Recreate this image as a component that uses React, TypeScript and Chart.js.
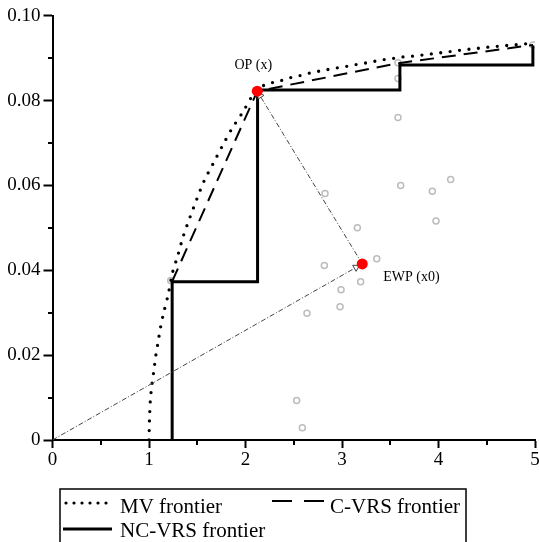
import React, { useEffect, useRef } from 'react';
import { Chart, registerables } from 'chart.js';

Chart.register(...registerables);

// Mean-variance frontier (dotted)
const mvX = [1.0, 1.005, 1.014, 1.03, 1.05, 1.07, 1.095, 1.12, 1.152, 1.2, 1.242, 1.3, 1.356, 1.425, 1.494, 1.57, 1.666, 1.76, 1.86, 1.967, 2.064, 2.122, 2.236, 2.34, 2.45, 2.55, 2.65, 2.755, 2.85, 2.95, 3.055, 3.15, 3.256, 3.35, 3.45, 3.55, 3.64, 3.746, 3.86, 3.96, 4.07, 4.17, 4.27, 4.37, 4.47, 4.57, 4.67, 4.77, 4.87, 4.98];
const mvY = [0.0, 0.0047, 0.0094, 0.013, 0.0163, 0.0198, 0.0232, 0.0266, 0.03, 0.0344, 0.0393, 0.0436, 0.0481, 0.0525, 0.0567, 0.061, 0.0652, 0.0693, 0.0734, 0.0771, 0.0809, 0.0827, 0.084, 0.0845, 0.0853, 0.0858, 0.0864, 0.0869, 0.0873, 0.0877, 0.0881, 0.0885, 0.0889, 0.0893, 0.0897, 0.09, 0.0903, 0.0905, 0.0908, 0.0911, 0.0914, 0.0917, 0.092, 0.0922, 0.0925, 0.0927, 0.0929, 0.0931, 0.0933, 0.0935];

// Convex VRS frontier (dashed)
const cvrsX = [1.24, 2.122, 3.58, 4.98];
const cvrsY = [0.0374, 0.0822, 0.0888, 0.0931];

// Non-convex VRS frontier (solid staircase)
const ncX = [1.24, 1.24, 2.125, 2.125, 3.6, 3.6, 4.978, 4.978];
const ncY = [0.0, 0.0373, 0.0373, 0.0825, 0.0825, 0.0884, 0.0884, 0.093];

// Individual funds (grey circles)
const fundX = [1.225, 3.58, 3.58, 3.58, 2.824, 3.608, 3.936, 4.126, 3.974, 3.159, 3.36, 2.817, 3.193, 2.99, 2.98, 2.637, 2.53, 2.589, 4.98];
const fundY = [0.0376, 0.0889, 0.0852, 0.076, 0.0581, 0.06, 0.0586, 0.0614, 0.0516, 0.05, 0.0427, 0.0411, 0.0373, 0.0354, 0.0314, 0.0299, 0.0093, 0.0029, 0.0931];

// Special portfolios
const originXY = [0, 0];
const opXY = [2.122, 0.0822];
const ewpXY = [3.21, 0.0415];
const arrowNearEwp = [3.146, 0.0407];
const arrowNearOp = [2.15, 0.0812];

const opLabel = 'OP (x)';
const ewpLabel = 'EWP (x0)';

const yTickLabels = ['0', '0.02', '0.04', '0.06', '0.08', '0.10'];
const xTickLabels = ['0', '1', '2', '3', '4', '5'];
const legendLabels = ['MV frontier', 'C-VRS frontier', 'NC-VRS frontier'];

const FONT = "'Liberation Serif', 'Times New Roman', serif";

const zip = (xs: number[], ys: number[]) => xs.map((x, i) => ({ x, y: ys[i] }));

function arrowRotation(from: number[], to: number[]) {
  return (ctx: any) => {
    const c = ctx.chart;
    const xs = c.scales && c.scales.x;
    const ys = c.scales && c.scales.y;
    if (!xs || !ys) return 0;
    const dx = xs.getPixelForValue(to[0]) - xs.getPixelForValue(from[0]);
    const dy = ys.getPixelForValue(to[1]) - ys.getPixelForValue(from[1]);
    return (Math.atan2(dy, dx) * 180) / Math.PI + 90;
  };
}

const extrasPlugin = {
  id: 'extras',
  afterDraw(chart: any) {
    const ctx = chart.ctx;
    const xs = chart.scales.x;
    const ys = chart.scales.y;
    const area = chart.chartArea;
    ctx.save();
    // minor ticks
    ctx.strokeStyle = '#000';
    ctx.lineWidth = 2;
    ctx.beginPath();
    for (let i = 1; i < 10; i += 2) {
      const py = Math.round(ys.getPixelForValue(i / 100));
      ctx.moveTo(area.left - 4.5, py);
      ctx.lineTo(area.left, py);
      const px = Math.round(xs.getPixelForValue(i / 2));
      ctx.moveTo(px, area.bottom);
      ctx.lineTo(px, area.bottom + 5);
    }
    ctx.stroke();

    // point labels
    ctx.fillStyle = '#000';
    ctx.font = `14px ${FONT}`;
    ctx.textBaseline = 'middle';
    ctx.textAlign = 'center';
    ctx.fillText(opLabel, xs.getPixelForValue(opXY[0]) - 4, ys.getPixelForValue(opXY[1]) - 26);
    ctx.textAlign = 'left';
    ctx.fillText(ewpLabel, xs.getPixelForValue(ewpXY[0]) + 21, ys.getPixelForValue(ewpXY[1]) + 13.5);

    // legend box
    ctx.lineWidth = 1.5;
    ctx.strokeStyle = '#000';
    ctx.strokeRect(60, 489, 406, 70);
    // MV sample
    ctx.lineCap = 'round';
    ctx.lineWidth = 3.2;
    ctx.setLineDash([0, 8]);
    ctx.beginPath();
    ctx.moveTo(66, 503);
    ctx.lineTo(108, 503);
    ctx.stroke();
    // C-VRS sample
    ctx.lineCap = 'butt';
    ctx.lineWidth = 2;
    ctx.setLineDash([20, 12]);
    ctx.beginPath();
    ctx.moveTo(272, 501);
    ctx.lineTo(324, 501);
    ctx.stroke();
    // NC-VRS sample
    ctx.lineWidth = 3;
    ctx.setLineDash([]);
    ctx.beginPath();
    ctx.moveTo(63, 529);
    ctx.lineTo(112, 529);
    ctx.stroke();
    // legend text
    ctx.font = `21px ${FONT}`;
    ctx.textBaseline = 'alphabetic';
    ctx.textAlign = 'left';
    ctx.fillText(legendLabels[0], 120, 513);
    ctx.fillText(legendLabels[1], 330, 513);
    ctx.fillText(legendLabels[2], 120, 537);
    ctx.restore();
  },
};

export default function App() {
  const ref = useRef<HTMLCanvasElement | null>(null);
  useEffect(() => {
    document.body.style.margin = '0';
    if (!ref.current) return;
    const dashDot = [5, 2, 1, 2];
    const chart = new Chart(ref.current, {
      type: 'scatter',
      data: {
        datasets: [
          {
            label: 'OP',
            data: [{ x: opXY[0], y: opXY[1] }],
            pointRadius: 5.5,
            backgroundColor: '#ff0000',
            borderColor: '#ff0000',
            borderWidth: 0,
            order: 0,
          } as any,
          {
            label: 'EWP',
            data: [{ x: ewpXY[0], y: ewpXY[1] }],
            pointRadius: 5.5,
            backgroundColor: '#ff0000',
            borderColor: '#ff0000',
            borderWidth: 0,
            order: 0,
          },
          {
            label: 'arrow1',
            data: [{ x: arrowNearEwp[0], y: arrowNearEwp[1] }],
            pointStyle: 'triangle',
            pointRadius: 4,
            backgroundColor: '#ffffff',
            borderColor: '#444',
            borderWidth: 1,
            rotation: arrowRotation(originXY, ewpXY),
            order: 1,
          },
          {
            label: 'arrow2',
            data: [{ x: arrowNearOp[0], y: arrowNearOp[1] }],
            pointStyle: 'triangle',
            pointRadius: 4,
            backgroundColor: '#ffffff',
            borderColor: '#444',
            borderWidth: 1,
            rotation: arrowRotation(ewpXY, opXY),
            order: 1,
          },
          {
            label: 'origin-EWP',
            data: [
              { x: originXY[0], y: originXY[1] },
              { x: ewpXY[0], y: ewpXY[1] },
            ],
            showLine: true,
            borderColor: '#444',
            borderWidth: 1,
            borderDash: dashDot,
            pointRadius: 0,
            order: 2,
          },
          {
            label: 'EWP-OP',
            data: [
              { x: ewpXY[0], y: ewpXY[1] },
              { x: opXY[0], y: opXY[1] },
            ],
            showLine: true,
            borderColor: '#444',
            borderWidth: 1,
            borderDash: dashDot,
            pointRadius: 0,
            order: 2,
          },
          {
            label: legendLabels[2],
            data: zip(ncX, ncY),
            showLine: true,
            borderColor: '#000',
            borderWidth: 3,
            pointRadius: 0,
            order: 3,
          },
          {
            label: legendLabels[1],
            data: zip(cvrsX, cvrsY),
            showLine: true,
            borderColor: '#000',
            borderWidth: 2,
            borderDash: [14, 8],
            pointRadius: 0,
            order: 4,
          },
          {
            label: legendLabels[0],
            data: zip(mvX, mvY),
            showLine: true,
            borderColor: '#000',
            borderWidth: 3.3,
            borderDash: [0, 9.5],
            borderCapStyle: 'round',
            tension: 0.3,
            pointRadius: 0,
            order: 5,
          } as any,
          {
            label: 'funds',
            data: zip(fundX, fundY),
            pointRadius: 3,
            backgroundColor: 'rgba(255,255,255,0)',
            borderColor: '#bcbcbc',
            borderWidth: 1.5,
            order: 6,
          },
        ],
      },
      options: {
        animation: false,
        responsive: false,
        devicePixelRatio: 1,
        layout: {
          autoPadding: false,
          padding: { left: 8, top: 15.7, right: 4, bottom: 62 },
        } as any,
        plugins: {
          legend: { display: false },
          tooltip: { enabled: false },
        },
        scales: {
          x: {
            type: 'linear',
            min: 0,
            max: 5,
            afterFit: (s: any) => {
              s.height = 40;
              s.paddingLeft = 0;
              s.paddingRight = 0;
            },
            border: { display: true, color: '#000', width: 2 },
            grid: {
              drawOnChartArea: false,
              drawTicks: true,
              tickLength: 8,
              tickWidth: 2,
              tickColor: (c: any) => (c.index % 2 === 0 ? '#000' : 'rgba(0,0,0,0)'),
            },
            ticks: {
              stepSize: 0.5,
              autoSkip: false,
              maxRotation: 0,
              padding: 1,
              color: '#000',
              font: { family: FONT, size: 19 },
              callback: (_v: any, i: number) => (i % 2 === 0 ? xTickLabels[i / 2] : ''),
            },
          },
          y: {
            type: 'linear',
            min: 0,
            max: 0.1,
            afterFit: (s: any) => {
              s.width = 44.5;
              s.paddingTop = 0;
              s.paddingBottom = 0;
            },
            border: { display: true, color: '#000', width: 2 },
            grid: {
              drawOnChartArea: false,
              drawTicks: true,
              tickLength: 9,
              tickWidth: 2,
              tickColor: (c: any) => (c.index % 2 === 0 ? '#000' : 'rgba(0,0,0,0)'),
            },
            ticks: {
              stepSize: 0.01,
              autoSkip: false,
              padding: 3,
              color: '#000',
              font: { family: FONT, size: 19 },
              callback: (_v: any, i: number) => (i % 2 === 0 ? yTickLabels[i / 2] : ''),
            },
          },
        },
      },
      plugins: [extrasPlugin],
    } as any);
    return () => chart.destroy();
  }, []);
  return (
    <div style={{ width: 539, height: 542, overflow: 'hidden' }}>
      <canvas ref={ref} width={539} height={542} style={{ display: 'block' }} />
    </div>
  );
}
